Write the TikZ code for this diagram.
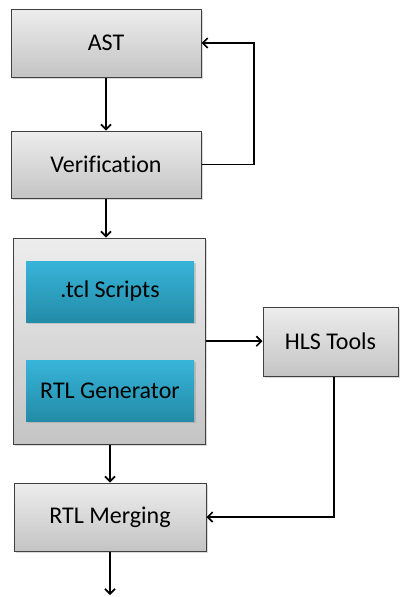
\documentclass[tikz,border=0pt]{standalone}
\usepackage{fontspec}
\setmainfont{Carlito}[Ligatures=NoCommon]
\usetikzlibrary{arrows.meta,shadows}
\definecolor{gtop}{HTML}{EDEDED}
\definecolor{gbot}{HTML}{C4C4C4}
\definecolor{btop}{HTML}{38B4D9}
\definecolor{bbot}{HTML}{238CA8}
\tikzset{
  graybox/.style={draw=black!75, line width=1pt, top color=gtop, bottom color=gbot,
    drop shadow={shadow xshift=1.5pt, shadow yshift=-1.5pt, opacity=0.3},
    font=\fontsize{24}{26}\selectfont, inner sep=0pt},
  bluebox/.style={draw=none, top color=btop, bottom color=bbot,
    drop shadow={shadow xshift=1.5pt, shadow yshift=-1.5pt, opacity=0.3},
    font=\fontsize{24}{26}\selectfont, inner sep=0pt},
  conn/.style={line width=1.7pt, -{Straight Barb[length=5pt,width=10pt,line width=1.7pt]}}
}
\begin{document}
\begin{tikzpicture}[x=1pt,y=-1pt]
\useasboundingbox (0,0) rectangle (399,597);
\node[graybox, minimum width=190pt, minimum height=68pt] (ast) at (106,43) {AST};
\node[graybox, minimum width=190pt, minimum height=67pt] (ver) at (106,164.5) {Verification};
\node[graybox, minimum width=192pt, minimum height=206pt] (big) at (109.5,341) {};
\node[bluebox, minimum width=168pt, minimum height=61pt] (tcl) at (110,291.5) {.tcl Scripts};
\node[bluebox, minimum width=168pt, minimum height=61pt] (rtl) at (110,390.5) {RTL Generator};
\node[graybox, minimum width=135pt, minimum height=69pt] (hls) at (330.5,341.5) {HLS Tools};
\node[graybox, minimum width=192pt, minimum height=68pt] (mrg) at (110,517) {RTL Merging};
\coordinate (out) at (110,595);
\coordinate (fb) at (254,0);
\coordinate (hb) at (334,0);
\draw[conn] (ast.south) -- (ver.north);
\draw[conn] (ver.east) -| (fb |- ver.east) |- (ast.east);
\draw[conn] (ver.south) -- (ver.south |- big.north);
\draw[conn] ([yshift=0.3pt]big.east |- hls.west) -- ([yshift=0.3pt]hls.west);
\draw[conn] (hb |- hls.south) |- (mrg.east);
\draw[conn] (mrg.north |- big.south) -- (mrg.north);
\draw[conn] (mrg.south) -- (out);
\end{tikzpicture}
\end{document}
